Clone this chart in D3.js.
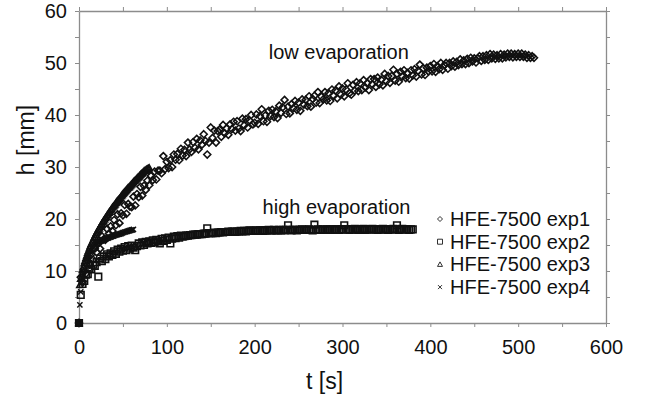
<!DOCTYPE html>
<html>
<head>
<meta charset="utf-8">
<script src="https://cdn.jsdelivr.net/npm/d3@7"></script>
<style>
    body { margin: 0; background: #fff; }
    text { font-family: "Liberation Sans", Arial, sans-serif; fill: #111; }
</style>
</head>
<body>
<div id="chart"></div>
<script>
// time step (s) of each recorded series, starting at t = 0
let exp1Step = 2;
let exp2Step = 2;
let exp3Step = 1;
let exp4Step = 1;

// HFE-7500 exp1 (low evaporation)
let exp1H = [
    0, 8.8, 8.0, 9.9, 9.5, 12.0, 11.2, 13.2, 12.2, 14.3,
    13.6, 15.3, 14.3, 16.7, 16.1, 16.0, 18.1, 17.2, 18.6, 17.7,
    19.8, 18.8, 20.9, 19.2, 21.1, 20.7, 22.7, 21.0, 22.9, 22.4,
    22.3, 24.3, 22.6, 24.8, 24.2, 26.2, 24.5, 26.4, 25.6, 27.4,
    26.5, 28.3, 27.5, 29.1, 27.6, 29.3, 29.3, 28.8, 32.1, 29.6,
    31.0, 29.8, 31.3, 30.0, 32.4, 31.4, 32.5, 31.3, 33.5, 32.2,
    33.3, 32.1, 34.7, 33.4, 32.9, 34.8, 33.7, 35.4, 33.4, 35.1,
    34.3, 36.3, 35.0, 32.4, 34.7, 37.6, 35.6, 37.0, 34.7, 36.9,
    37.2, 35.8, 38.1, 36.5, 37.4, 36.2, 38.2, 37.3, 38.7, 37.0,
    38.8, 37.4, 36.9, 39.3, 38.0, 39.2, 37.6, 39.0, 40.0, 38.2,
    38.5, 40.1, 38.3, 39.8, 41.1, 38.8, 39.9, 38.7, 40.8, 39.8,
    41.0, 39.6, 40.7, 39.4, 41.8, 40.4, 41.5, 42.9, 40.2, 41.6,
    40.3, 42.1, 41.3, 42.7, 41.0, 42.4, 40.8, 43.0, 42.0, 42.9,
    41.7, 43.6, 41.6, 43.1, 43.7, 42.4, 44.4, 42.3, 43.5, 43.0,
    44.4, 42.8, 44.2, 42.7, 44.9, 43.7, 44.7, 43.2, 45.5, 43.9,
    45.1, 43.6, 44.9, 46.1, 44.2, 43.9, 45.8, 44.7, 46.3, 44.6,
    46.1, 44.8, 46.7, 45.3, 46.1, 44.8, 46.9, 45.9, 46.9, 45.4,
    47.2, 45.9, 46.8, 45.7, 47.9, 46.5, 47.5, 46.2, 47.5, 48.7,
    46.6, 47.9, 46.4, 48.3, 47.4, 48.6, 47.1, 48.1, 47.0, 48.6,
    47.6, 48.8, 47.4, 48.5, 49.7, 47.8, 49.0, 47.7, 49.1, 48.4,
    49.4, 48.4, 49.8, 48.3, 49.4, 48.8, 50.0, 48.7, 49.6, 50.0,
    48.9, 50.0, 49.4, 50.3, 49.3, 50.2, 49.6, 50.7, 49.8, 50.5,
    49.8, 50.8, 50.0, 51.0, 50.3, 50.9, 50.1, 50.9, 51.3, 50.4,
    51.3, 50.6, 51.5, 50.6, 51.7, 50.9, 51.6, 50.8, 51.5, 50.9,
    51.7, 50.9, 51.6, 51.1, 51.8, 51.2, 51.8, 51.1, 51.7, 51.2,
    51.8, 51.2, 51.8, 51.2, 51.6, 51.0, 51.5, 51.0, 51.3, 51.0
];
// HFE-7500 exp2 (high evaporation)
let exp2H = [
    0, 5.4, 7.5, 8.1, 9.3, 9.4, 10.4, 10.3, 11.2, 11.0,
    11.7, 8.9, 12.4, 11.9, 12.8, 12.3, 13.2, 12.8, 13.4, 13.1,
    13.8, 13.3, 14.1, 13.7, 14.3, 13.9, 14.6, 14.0, 14.8, 14.3,
    14.9, 14.5, 14.0, 14.8, 15.3, 14.9, 15.5, 15.0, 15.6, 15.3,
    15.7, 15.4, 15.9, 15.5, 16.0, 15.7, 15.3, 16.2, 15.8, 16.3,
    16.0, 16.4, 15.3, 16.2, 16.6, 16.3, 16.7, 16.4, 16.8, 16.6,
    16.7, 16.8, 16.8, 16.9, 16.9, 17.0, 17.0, 17.0, 17.1, 17.1,
    17.1, 17.2, 17.2, 18.2, 17.3, 17.3, 17.3, 17.4, 17.3, 17.4,
    17.4, 17.5, 17.4, 17.5, 17.5, 17.6, 17.5, 17.6, 17.6, 17.5,
    17.6, 17.6, 17.7, 17.6, 17.7, 17.6, 17.7, 17.8, 17.7, 17.7,
    17.7, 17.8, 17.7, 17.8, 17.8, 17.7, 17.8, 17.8, 17.9, 17.8,
    17.8, 17.9, 17.8, 17.8, 17.9, 17.8, 17.9, 17.8, 17.9, 18.8,
    17.9, 17.8, 17.9, 17.9, 17.8, 17.9, 17.9, 18.0, 17.9, 17.9,
    17.9, 18.0, 17.9, 17.8, 18.9, 17.9, 18.0, 17.9, 17.9, 18.0,
    17.9, 18.0, 17.9, 18.0, 18.0, 17.9, 18.0, 18.0, 17.9, 18.0,
    18.0, 18.8, 18.0, 18.0, 17.9, 18.0, 18.0, 18.1, 18.0, 17.9,
    18.0, 18.0, 18.1, 17.9, 18.0, 18.0, 18.0, 18.1, 18.0, 18.0,
    17.9, 18.0, 18.0, 18.1, 18.0, 18.0, 17.9, 18.0, 18.0, 18.1,
    18.0, 18.8, 17.9, 18.0, 18.1, 18.0, 18.0, 18.0, 17.9, 18.0,
    18.0
];
// HFE-7500 exp3
let exp3H = [
    0, 7.3, 8.5, 9.4, 10.2, 10.8, 11.5, 12.0, 12.5, 13.0,
    13.5, 13.9, 14.4, 14.8, 15.2, 15.5, 15.9, 16.3, 16.6, 17.0,
    17.3, 17.6, 17.9, 18.2, 18.5, 18.8, 19.1, 19.4, 19.6, 19.9,
    20.2, 20.4, 20.7, 20.9, 21.2, 21.4, 21.7, 21.9, 22.2, 22.4,
    22.6, 22.8, 23.1, 23.3, 23.5, 23.7, 23.9, 24.1, 24.4, 24.6,
    24.8, 25.0, 25.2, 25.4, 25.6, 25.8, 26.0, 26.1, 26.3, 26.5,
    26.7, 26.9, 27.1, 27.3, 27.4, 27.6, 27.8, 28.0, 28.1, 28.3,
    28.5, 28.7, 28.8, 29.0, 29.2, 29.3, 29.4, 29.5, 29.6, 29.7, 29.8
];
// HFE-7500 exp4
let exp4H = [
    0, 3.5, 6.0, 7.6, 8.8, 9.7, 10.4, 11.0, 11.6, 12.1,
    12.5, 12.9, 13.3, 13.6, 13.9, 14.2, 14.5, 14.7, 14.9, 15.1,
    15.3, 15.4, 15.5, 15.6, 15.7, 15.8, 15.9, 15.9, 16.0, 16.1,
    16.1, 16.2, 16.3, 16.3, 16.4, 16.5, 16.5, 16.6, 16.7, 16.7,
    16.8, 16.9, 16.9, 17.0, 17.0, 17.1, 17.1, 17.2, 17.2, 17.3,
    17.4, 17.4, 17.5, 17.5, 17.6, 17.6, 17.7, 17.7, 17.8, 17.8,
    17.9, 17.9, 18.0
];

let seriesNames = ['HFE-7500 exp1', 'HFE-7500 exp2', 'HFE-7500 exp3', 'HFE-7500 exp4'];
let seriesMarkers = ['diamond', 'square', 'triangle', 'cross'];
let xTicks = [0, 100, 200, 300, 400, 500, 600];
let yTicks = [0, 10, 20, 30, 40, 50, 60];
let notes = [
    {text: 'low evaporation', t: 216, h: 50.7},
    {text: 'high evaporation', t: 209, h: 21}
];

let series = [
    {name: seriesNames[0], marker: seriesMarkers[0], step: exp1Step, values: exp1H, r: 3.5, sw: 1.6},
    {name: seriesNames[1], marker: seriesMarkers[1], step: exp2Step, values: exp2H, r: 3.3, sw: 1.6},
    {name: seriesNames[2], marker: seriesMarkers[2], step: exp3Step, values: exp3H, r: 3.2, sw: 1.5},
    {name: seriesNames[3], marker: seriesMarkers[3], step: exp4Step, values: exp4H, r: 2.6, sw: 1.4}
];

//marker path, r = half size
function markerPath(type, r) {
    if (type === 'diamond') {
        return 'M0,' + (-r) + 'L' + r + ',0L0,' + r + 'L' + (-r) + ',0Z';
    }
    if (type === 'square') {
        return 'M' + (-r) + ',' + (-r) + 'H' + r + 'V' + r + 'H' + (-r) + 'Z';
    }
    if (type === 'triangle') {
        return 'M0,' + (-r) + 'L' + r + ',' + (r * 0.8) + 'H' + (-r) + 'Z';
    }
    return 'M' + (-r) + ',' + (-r) + 'L' + r + ',' + r + 'M' + r + ',' + (-r) + 'L' + (-r) + ',' + r;
}

let width = 647, height = 394;
let margin = {left: 79, top: 11, right: 41, bottom: 71};
let w = width - margin.left - margin.right;
let h = height - margin.top - margin.bottom;

let svg = d3.select('#chart').append('svg')
    .attr('width', width)
    .attr('height', height);
let g = svg.append('g').attr('transform', 'translate(' + margin.left + ',' + margin.top + ')');

let x = d3.scaleLinear().domain([0, 600]).range([0, w]);
let y = d3.scaleLinear().domain([0, 60]).range([h, 0]);

let axisColor = '#8c8c8c';
let minorX = d3.range(0, 601, 50);
let minorY = d3.range(0, 61, 5);

let axes = [
    g.append('g').attr('transform', 'translate(0,' + h + ')')
        .call(d3.axisBottom(x).tickValues(minorX).tickSize(4).tickSizeOuter(0).tickPadding(13)
            .tickFormat(function (d) { return xTicks.indexOf(d) >= 0 ? d : ''; })),
    g.append('g')
        .call(d3.axisLeft(y).tickValues(minorY).tickSize(4).tickSizeOuter(0).tickPadding(8)
            .tickFormat(function (d) { return yTicks.indexOf(d) >= 0 ? d : ''; })),
    g.append('g')
        .call(d3.axisTop(x).tickValues(minorX).tickSize(4).tickSizeOuter(0).tickFormat('')),
    g.append('g').attr('transform', 'translate(' + w + ',0)')
        .call(d3.axisRight(y).tickValues(minorY).tickSize(4).tickSizeOuter(0).tickFormat(''))
];
axes.forEach(function (a) {
    a.select('.domain').attr('stroke', axisColor).attr('stroke-width', 1.3);
    a.selectAll('.tick line').attr('stroke', axisColor).attr('stroke-width', 1);
    a.selectAll('.tick text').style('font-size', '20px').attr('fill', '#111');
});

//data points
series.forEach(function (s) {
    let pts = s.values.map(function (v, i) { return {t: i * s.step, h: v}; });
    g.append('g').attr('class', 'series')
        .selectAll('path')
        .data(pts)
        .enter()
        .append('path')
        .attr('transform', function (d) { return 'translate(' + x(d.t) + ',' + y(d.h) + ')'; })
        .attr('d', markerPath(s.marker, s.r))
        .attr('fill', 'none')
        .attr('stroke', '#111')
        .attr('stroke-width', s.sw);
});

//origin point
g.append('rect')
    .attr('x', x(0) - 3).attr('y', y(0) - 3)
    .attr('width', 6).attr('height', 6)
    .attr('fill', '#111');

//annotations
g.selectAll('text.note')
    .data(notes)
    .enter()
    .append('text')
    .attr('class', 'note')
    .attr('x', function (d) { return x(d.t); })
    .attr('y', function (d) { return y(d.h); })
    .style('font-size', '20px')
    .text(function (d) { return d.text; });

//legend
let legend = svg.append('g').attr('transform', 'translate(440,219)');
let rows = legend.selectAll('g')
    .data(series)
    .enter()
    .append('g')
    .attr('transform', function (d, i) { return 'translate(0,' + (i * 22.7) + ')'; });
rows.append('path')
    .attr('d', function (d) { return markerPath(d.marker, d.marker === 'cross' ? 2 : 2.5); })
    .attr('fill', 'none')
    .attr('stroke', '#1a1a1a')
    .attr('stroke-width', 0.9);
rows.append('text')
    .attr('x', 10)
    .attr('y', 7)
    .style('font-size', '20px')
    .text(function (d) { return d.name; });

//axis titles
svg.append('text')
    .attr('x', margin.left + x(300) - 18)
    .attr('y', 389)
    .attr('text-anchor', 'middle')
    .style('font-size', '23px')
    .text('t [s]');
svg.append('text')
    .attr('transform', 'translate(34,140) rotate(-90)')
    .attr('text-anchor', 'middle')
    .style('font-size', '23px')
    .text('h [mm]');
</script>
</body>
</html>
